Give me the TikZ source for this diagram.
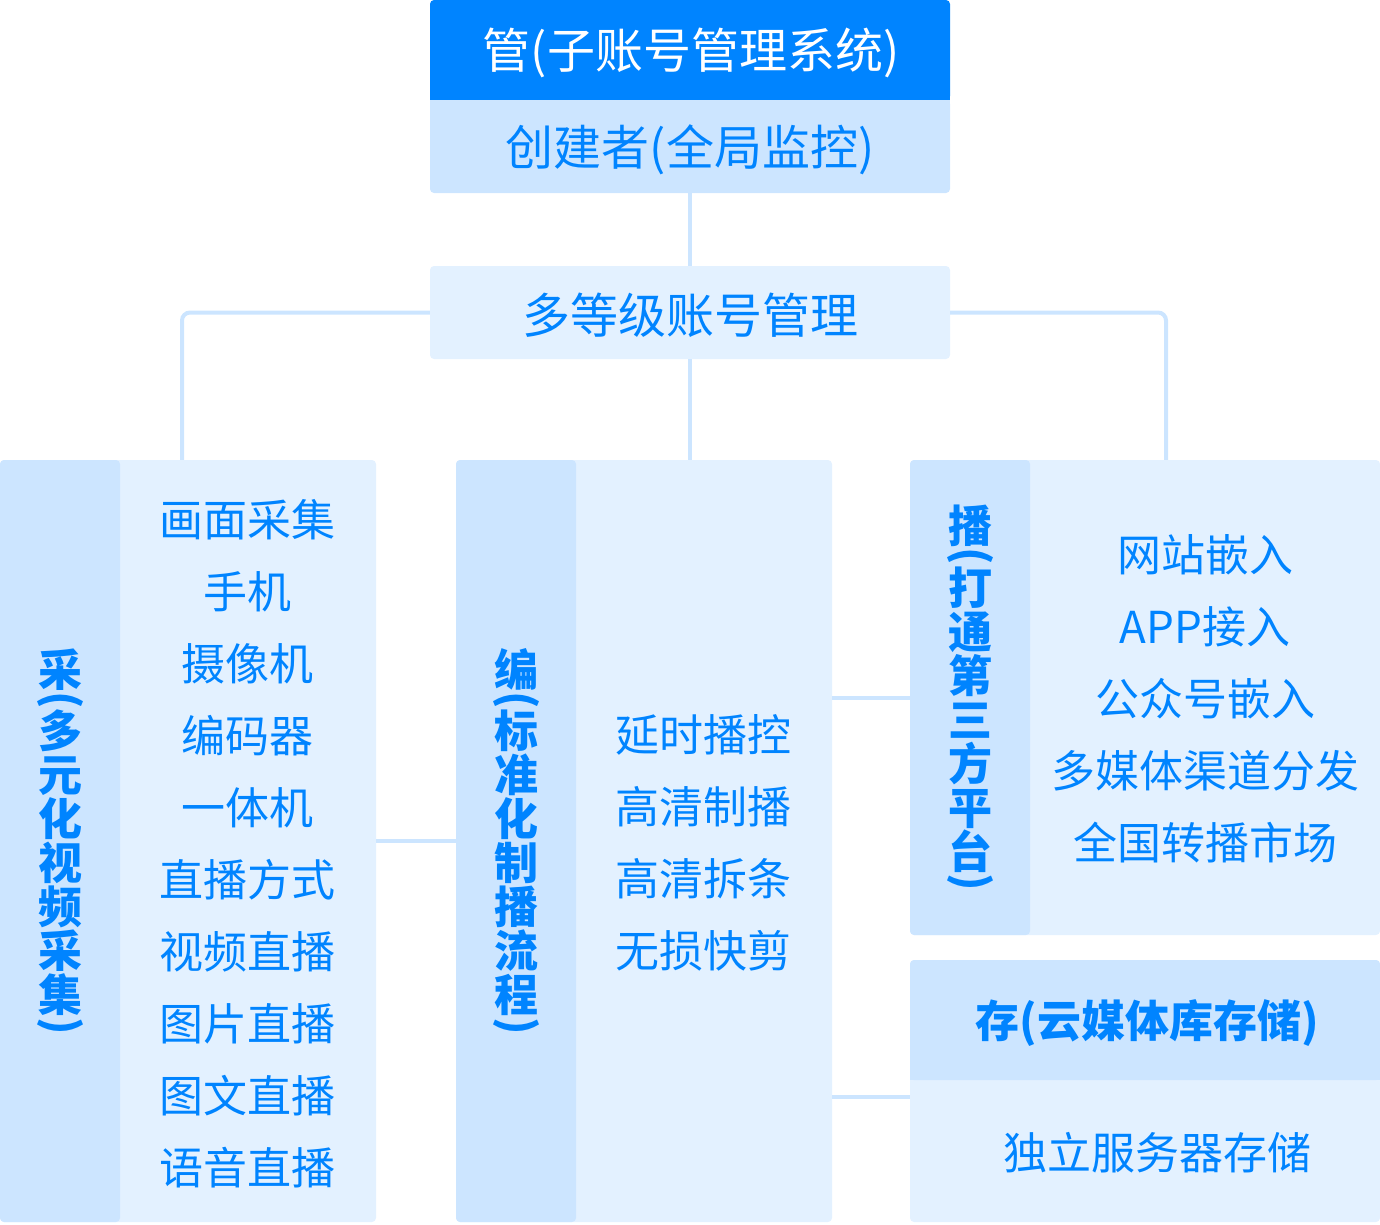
\documentclass[tikz,border=0pt]{standalone}
\usepackage{fontspec}
\usepackage{graphicx}
\setmainfont{Noto Sans CJK SC}
\definecolor{cBlue}{HTML}{0084FF}
\definecolor{cStrip}{HTML}{CCE5FF}
\definecolor{cPanel}{HTML}{E3F1FF}
\definecolor{cLine}{HTML}{CCE5FF}
\newcommand\VC[1]{\hbox to 1em{\hss\rule[-0.12em]{0pt}{1em}#1\hss}}
\newcommand\VP[1]{\hbox to 1em{\hss\setbox0\hbox{\rotatebox{-90}{#1}}\dimen0=\ht0 \advance\dimen0 by \dp0 \rule{0pt}{\dimen0}\raise\dp0\box0\hss}}
\tikzset{
  conn/.style={draw=cLine, line width=4pt, rounded corners=8pt},
  box/.style={rectangle, inner sep=0pt, rounded corners=4pt},
  item/.style={inner sep=0pt, text=cBlue, font=\fontsize{44}{44}\selectfont, text height=38.7pt, text depth=5.3pt},
  head/.style={inner sep=0pt, font=\fontsize{48}{48}\selectfont, text height=42.2pt, text depth=5.8pt},
  vlab/.style={box, fill=cStrip, minimum width=120pt, text=cBlue, font=\fontsize{44}{44}\selectfont\bfseries}
}
\begin{document}
\begin{tikzpicture}[x=1pt,y=-1pt]
\useasboundingbox (0,0) rectangle (1380,1224);
% top boxes
\node[box, fill=cBlue, minimum width=520pt, minimum height=100pt] (T1) at (690,50) {};
\fill[cBlue] (T1.south west) rectangle ([yshift=8pt]T1.south east);
\node[box, fill=cStrip, minimum width=520pt, minimum height=93pt] (T2) at (690,146.5) {};
\fill[cStrip] ([yshift=-8pt]T2.north west) rectangle (T2.north east);
\node[head, text=white] (T1t) at (691,50) {管(子账号管理系统)};
\node[head, text=cBlue] (T2t) at (690,147) {创建者(全局监控)};
\node[box, fill=cPanel, minimum width=520pt, minimum height=93pt] (D) at (690,312.5) {};
\node[head, text=cBlue] (Dt) at (690,315) {多等级账号管理};
% panels
\node[box, fill=cPanel, minimum width=376pt, minimum height=762pt] (Lp) at (188,841) {};
\node[box, fill=cPanel, minimum width=376pt, minimum height=762pt] (Mp) at (644,841) {};
\node[box, fill=cPanel, minimum width=470pt, minimum height=475pt] (Rp) at (1145,697.5) {};
\node[box, fill=cPanel, minimum width=470pt, minimum height=262pt] (Sp) at (1145,1091) {};
% connectors
\draw[conn] (T2.south) -- (D.north);
\draw[conn] (D.west) -| ([xshift=-6pt]Lp.north);
\draw[conn] (D.east) -| ([xshift=21pt]Rp.north);
\draw[conn] (D.south) -- (D.south |- Mp.north);
\draw[conn] (Lp.east) -- (Mp.west);
\draw[conn] (Rp.west -| Mp.east) -- (Rp.west);
\draw[conn] ([yshift=-6pt]Sp.west -| Mp.east) -- ([yshift=-6pt]Sp.west);
% strips with vertical labels
\node[vlab, minimum height=762pt] (Ls) at (60,841) {\vbox{\offinterlineskip\VC{采}\VP{(}\VC{多}\VC{元}\VC{化}\VC{视}\VC{频}\VC{采}\VC{集}\VP{)}}};
\node[vlab, minimum height=762pt] (Ms) at (516,841) {\vbox{\offinterlineskip\VC{编}\VP{(}\VC{标}\VC{准}\VC{化}\VC{制}\VC{播}\VC{流}\VC{程}\VP{)}}};
\node[vlab, minimum height=475pt] (Rs) at (970,697.5) {\vbox{\offinterlineskip\VC{播}\VP{(}\VC{打}\VC{通}\VC{第}\VC{三}\VC{方}\VC{平}\VC{台}\VP{)}}};
\node[box, fill=cStrip, minimum width=470pt, minimum height=120pt] (Sh) at (1145,1020) {};
\fill[cStrip] (Sh.south west) rectangle ([yshift=8pt]Sh.south east);
\node[item, font=\fontsize{44}{44}\selectfont\bfseries] (Sht) at (1147,1021) {存(云媒体库存储)};
\node[item] (Sb) at (1157,1153) {独立服务器存储};
% items
\foreach \t [count=\i] in {画面采集,手机,摄像机,编码器,一体机,直播方式,视频直播,图片直播,图文直播,语音直播}
  \node[item] (L\i) at (247,{520+72*(\i-1)}) {\t};
\foreach \t [count=\i] in {延时播控,高清制播,高清拆条,无损快剪}
  \node[item] (M\i) at (703,{735+72*(\i-1)}) {\t};
\foreach \t [count=\i] in {网站嵌入,APP接入,公众号嵌入,多媒体渠道分发,全国转播市场}
  \node[item] (R\i) at (1205,{555+72*(\i-1)}) {\t};
\end{tikzpicture}
\end{document}
